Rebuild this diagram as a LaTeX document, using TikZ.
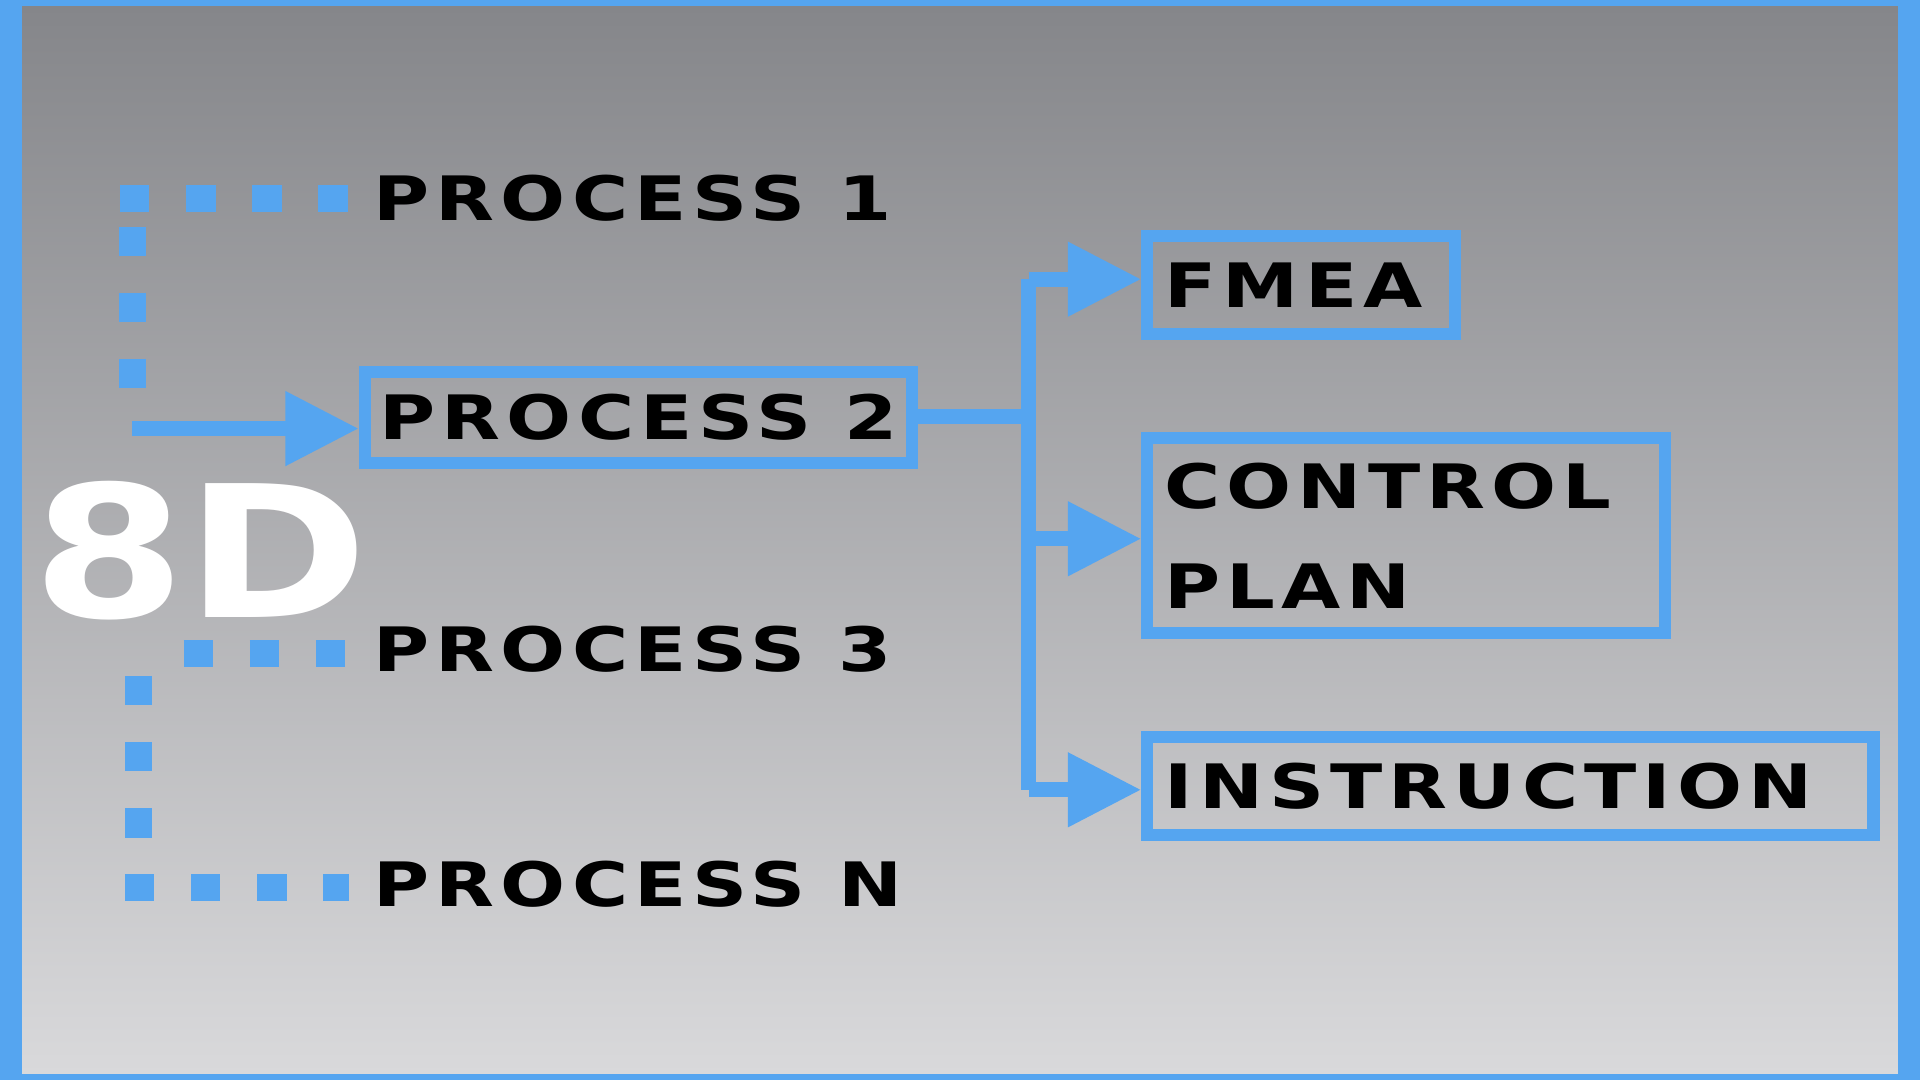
\documentclass[tikz,border=0pt]{standalone}
\usepackage{fontspec}
\setmainfont{DejaVu Sans}
\newfontfamily\wide[LetterSpace=10,FakeStretch=1.25]{DejaVu Sans}
\newfontfamily\widebig[FakeStretch=1.2]{DejaVu Sans}
\usetikzlibrary{arrows.meta}
\definecolor{bl}{HTML}{55A5F0}
\definecolor{gtop}{HTML}{85868A}
\definecolor{gbot}{HTML}{D9D9DB}
\tikzset{
 lbl/.style={anchor=west,inner sep=0,font=\wide\bfseries\fontsize{50}{54}\selectfont,text=black},
 boxx/.style={draw=bl,line width=10pt},
 dots/.style={draw=bl,line width=22pt,dash pattern=on 24pt off 30pt},
 conn/.style={draw=bl,line width=12pt},
 arr/.style={conn,-{Triangle[length=60pt,width=58pt]}}
}
\begin{document}
\begin{tikzpicture}[x=1pt,y=-1pt]
\useasboundingbox (0,0) rectangle (1568,882);
\fill[bl] (0,0) rectangle (1568,882);
\shade[top color=gtop,bottom color=gbot] (18,5) rectangle (1550,877);
% texts
\node[lbl] (p1) at (305,162) {PROCESS 1};
\node[lbl] (p3) at (305,530) {PROCESS 3};
\node[lbl] (pn) at (305,722) {PROCESS N};
\node[lbl,draw=bl,line width=10pt,inner xsep=12pt,inner ysep=18pt,anchor=west] (p2) at (293,341) {PROCESS 2};
\node[boxx,lbl,anchor=north west,minimum height=80pt,inner xsep=14pt,text width=223pt,align=left] (fm) at (932,188) {FMEA};
\node[boxx,lbl,anchor=north west,minimum height=159pt,inner xsep=14pt,text width=395pt,align=left,font=\wide\bfseries\fontsize{50}{82}\selectfont] (cp) at (932,353) {CONTROL\\PLAN};
\node[boxx,lbl,anchor=north west,minimum height=80pt,inner xsep=14pt,text width=565pt,align=left] (in) at (932,597) {INSTRUCTION};
\node[anchor=west,inner sep=0,text=white,font=\widebig\bfseries\fontsize{150}{150}\selectfont] (d8) at (26,450) {8D};
% coordinates
\coordinate (a1) at (98,162);
\coordinate (a2) at (285,162);
\coordinate (a3) at (108,350);
\coordinate (b1) at (150,534);
\coordinate (b2) at (285,534);
\coordinate (b3) at (113,552);
\coordinate (b4) at (113,725);
\coordinate (b5) at (285,725);
\coordinate (j) at (840,340);
\coordinate (jt) at (840,228);
\coordinate (jb) at (840,645);
\coordinate (jm) at (840,440);
% dotted
\draw[dots] (a1) -- (a2);
\draw[dots] (108,185) -- (108,320);
\draw[dots] (b1) -- (b2);
\draw[dots] (113,552) -- (113,700);
\draw[dots] (102,725) -- (b5);
\draw[arr] (a3) -- (a3 -| p2.west);
% connectors
\draw[conn] (p2.east |- j) -- (j);
\draw[conn] (jt) -- (jb);
\draw[arr] (jt) -- (jt -| fm.west);
\draw[arr] (jm) -- (jm -| cp.west);
\draw[arr] (jb) -- (jb -| in.west);
\end{tikzpicture}
\end{document}
